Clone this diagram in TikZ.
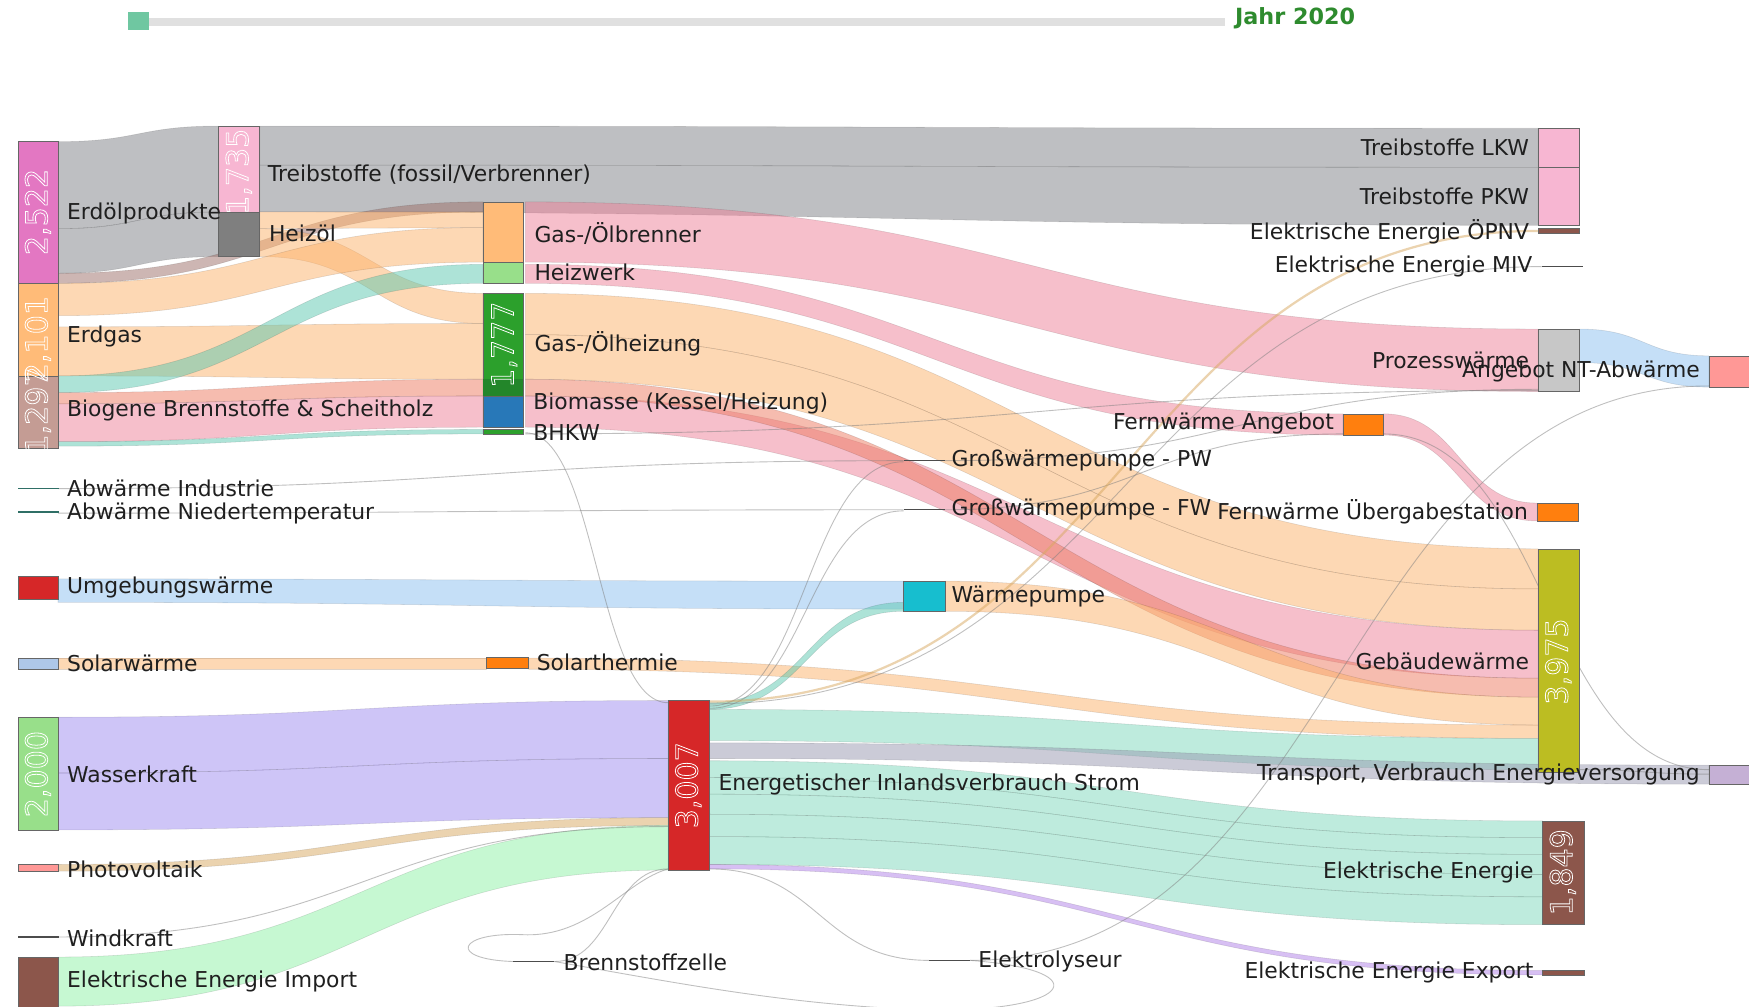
\documentclass[tikz,border=0pt]{standalone}
\usepackage{fontspec}
\setmainfont{DejaVu Sans}
\definecolor{cGray}{HTML}{7E8086}
\definecolor{cOr}{HTML}{FDB36B}
\definecolor{cPink}{HTML}{EE8098}
\definecolor{cSalmon}{HTML}{EE7A60}
\definecolor{cTeal}{HTML}{5CC8B0}
\definecolor{cBlue}{HTML}{8CC0F0}
\definecolor{cLav}{HTML}{9F8CF0}
\definecolor{cMint}{HTML}{7ED8BC}
\definecolor{cLGreen}{HTML}{8EF2A6}
\definecolor{cTan}{HTML}{D8A860}
\definecolor{cBrownL}{HTML}{9C6E68}
\definecolor{cTrans}{HTML}{9898B0}
\definecolor{cPurp}{HTML}{B080E8}
\definecolor{nErd}{HTML}{E377C2}
\definecolor{nGas}{HTML}{FFBB78}
\definecolor{nBio}{HTML}{C49C94}
\definecolor{nRed}{HTML}{D62728}
\definecolor{nLBlue}{HTML}{AEC7E8}
\definecolor{nLGreen}{HTML}{98DF8A}
\definecolor{nPV}{HTML}{FF9896}
\definecolor{nBrown}{HTML}{8C564B}
\definecolor{nPinkL}{HTML}{F7B6D2}
\definecolor{nGray}{HTML}{7F7F7F}
\definecolor{nGreen}{HTML}{2CA02C}
\definecolor{nDGreen}{HTML}{23862A}
\definecolor{nBlue}{HTML}{2878B8}
\definecolor{nOrange}{HTML}{FF7F0E}
\definecolor{nCyan}{HTML}{17BECF}
\definecolor{nLGray}{HTML}{C7C7C7}
\definecolor{nOlive}{HTML}{BCBD22}
\definecolor{nLilac}{HTML}{C5B0D5}
\definecolor{nDTeal}{HTML}{2F6F66}
\definecolor{jahrgreen}{HTML}{2E8B2E}
\definecolor{handle}{HTML}{6FC7A1}
\newcommand{\band}[7]{\path[#7] (#1,#2) .. controls ({(#1+#4)/2},#2) and ({(#1+#4)/2},#5) .. (#4,#5) -- (#4,#6) .. controls ({(#1+#4)/2},#6) and ({(#1+#4)/2},#3) .. (#1,#3) -- cycle;}
\newcommand{\thinflow}[5]{\draw[#5] (#1,#2) .. controls ({(#1+#3)/2},#2) and ({(#1+#3)/2},#4) .. (#3,#4);}
\newcommand{\outl}[1]{\special{pdf:literal direct 1 Tr 0.7 w}#1\special{pdf:literal direct 0 Tr}}
\begin{document}
\begin{tikzpicture}[x=1pt,y=-1pt,
  lk/.style={fill=#1,fill opacity=0.5,draw=black,draw opacity=0.12,line width=0.5pt},
  thinlk/.style={draw=#1,line width=0.8pt,draw opacity=0.5},
  nb/.style={draw=black!60,line width=0.5pt,inner sep=0pt,outer sep=0pt,anchor=north west,minimum width=36pt},
  ln/.style={draw=none,inner sep=0pt,outer sep=0pt,anchor=west,minimum width=37pt,minimum height=1.3pt},
  lbl/.style={font=\fontsize{19.6}{22}\selectfont,text=black!88,inner sep=0pt},
  val/.style={font=\fontsize{27}{30}\selectfont,text=white,rotate=90,inner sep=0pt},
]
\fill[white] (0,0) rectangle (1568,902);
\useasboundingbox (0,0) rectangle (1568,902);

% slider
\fill[black!12] (115,16) rectangle (1098,23);
\node[fill=handle,inner sep=0pt,minimum width=18pt,minimum height=16pt,anchor=north west] (handle) at (115,11) {};
\node[anchor=west,inner sep=0pt,text=jahrgreen,font=\fontsize{20}{22}\bfseries] (jahr) at (1107,16) {Jahr 2020};

% ---- bands ----
\band{52}{127}{205}{196}{113}{190}{lk=cGray}
\band{52}{205}{245}{196}{190}{230}{lk=cGray}
\band{233}{113}{148}{1379}{115}{150}{lk=cGray}
\band{233}{148}{190}{1379}{150}{202}{lk=cGray}
\band{52}{245}{254}{433}{181}{190}{lk=cBrownL}
\band{233}{190}{205}{433}{190}{204}{lk=cOr}
\band{233}{205}{230}{433}{263}{290}{lk=cOr}
\band{52}{254}{283}{433}{204}{235}{lk=cOr}
\band{52}{293}{337}{433}{290}{340}{lk=cOr}
\band{52}{337}{352}{433}{237}{254}{lk=cTeal}
\band{52}{352}{362}{433}{340}{355}{lk=cSalmon}
\band{52}{362}{396}{433}{355}{383}{lk=cPink}
\band{52}{396}{400}{433}{385}{389}{lk=cTeal}
% col3 out
\band{471}{181}{235}{1379}{295}{351}{lk=cPink}
\band{471}{237}{254}{1204}{371}{390}{lk=cPink}
\band{471}{263}{300}{1379}{492}{528}{lk=cOr}
\band{471}{300}{340}{1379}{528}{565}{lk=cOr}
\band{471}{355}{383}{1379}{565}{608}{lk=cPink}
\band{471}{340}{355}{1379}{608}{625}{lk=cSalmon}
\band{1240}{371}{390}{1378}{451}{467}{lk=cPink}
% heat pumps, solar
\band{52}{519}{540}{810}{521}{546}{lk=cBlue}
\band{847}{521}{548}{1379}{625}{650}{lk=cOr}
\band{52}{590}{600}{436}{590}{600}{lk=cOr}
\band{474}{590}{600}{1379}{650}{662}{lk=cOr}
% electricity in
\band{52}{643}{693}{599}{628}{680}{lk=cLav}
\band{52}{693}{744}{599}{680}{733}{lk=cLav}
\band{52}{775}{781}{599}{733}{740}{lk=cTan}
\band{52}{858}{902}{599}{740}{780}{lk=cLGreen}
% electricity out
\band{636}{630}{636}{810}{540}{548}{lk=cTeal}
\band{636}{636}{664}{1379}{662}{690}{lk=cMint}
\band{636}{666}{680}{1532}{686}{703}{lk=cTrans}
\band{636}{682}{697}{1383}{736}{751}{lk=cMint}
\band{636}{697}{712}{1383}{751}{766}{lk=cMint}
\band{636}{712}{730}{1383}{766}{784}{lk=cMint}
\band{636}{730}{750}{1383}{784}{804}{lk=cMint}
\band{636}{750}{775}{1383}{804}{829}{lk=cMint}
\band{636}{775}{779}{1383}{870}{874}{lk=cPurp}
\band{1416}{295}{325}{1532}{319}{347}{lk=cBlue}

% thin links
\thinflow{52}{438}{810}{413}{thinlk=gray}
\thinflow{52}{460}{810}{457}{thinlk=gray}
\thinflow{471}{388}{599}{630}{thinlk=gray}
\thinflow{471}{389}{1379}{350}{thinlk=gray}
\thinflow{636}{633}{810}{414}{thinlk=gray}
\thinflow{636}{635}{810}{458}{thinlk=gray}
\thinflow{847}{413}{1379}{349}{thinlk=gray}
\thinflow{847}{457}{1204}{389}{thinlk=gray}
\thinflow{636}{629}{1379}{207}{thinlk=cTan,line width=2pt}
\thinflow{636}{631}{1382}{239}{thinlk=gray}
\thinflow{1240}{389}{1532}{690}{thinlk=gray}
\thinflow{1416}{690}{1532}{694}{thinlk=gray}
\thinflow{870}{861}{1532}{346}{thinlk=gray}
\thinflow{636}{779}{833}{861}{thinlk=gray}
\thinflow{52}{840}{599}{741}{thinlk=gray}
\thinflow{497}{862}{599}{779}{thinlk=gray}
\draw[thinlk=gray] (460,862) .. controls (400,860) and (410,835) .. (470,838) .. controls (530,840) and (560,790) .. (599,779);
\draw[thinlk=gray] (870,861) .. controls (990,870) and (960,910) .. (820,905) .. controls (700,900) and (600,880) .. (497,862);

% ---- nodes ----
\node[nb,fill=nErd,minimum height=127pt] (erdoel) at (16,127) {};
\node[nb,fill=nGas,minimum height=83pt] (erdgas) at (16,254) {};
\node[nb,fill=nBio,minimum height=65pt] (biogen) at (16,337) {};
\node[ln,fill=nDTeal] (abwind) at (16,438) {};
\node[ln,fill=nDTeal] (abwnt) at (16,459) {};
\node[nb,fill=nRed,minimum height=20pt] (umg) at (16,517) {};
\node[nb,fill=nLBlue,minimum height=10pt] (solw) at (16,590) {};
\node[nb,fill=nLGreen,minimum height=101pt] (wass) at (16,643) {};
\node[nb,fill=nPV,minimum height=6pt] (pv) at (16,775) {};
\node[ln,fill=black!70] (wind) at (16,840) {};
\node[nb,fill=nBrown,minimum height=48pt] (imp) at (16,858) {};

\node[nb,fill=nPinkL,minimum height=77pt] (treib) at (196,113) {};
\node[nb,fill=nGray,minimum height=40pt] (heizoel) at (196,190) {};

\node[nb,fill=nGas,minimum height=54pt] (brenner) at (433,181) {};
\node[nb,fill=nLGreen,minimum height=19pt] (heizwerk) at (433,235) {};
\node[nb,fill=nGreen,minimum height=92pt] (gasheiz) at (433,263) {};
\node[nb,fill=nDGreen,draw=none,minimum height=15pt] (gasheizb) at (433,340) {};
\node[nb,fill=nBlue,minimum height=28pt] (biomasse) at (433,355) {};
\node[nb,fill=nGreen,minimum height=4pt] (bhkw) at (433,385) {};
\node[nb,fill=nOrange,minimum height=10pt,minimum width=38pt] (solth) at (436,589) {};
\node[ln,fill=black!70] (bzelle) at (460,862) {};

\node[nb,fill=nRed,minimum height=152pt,minimum width=37pt] (strom) at (599,628) {};

\node[ln,fill=black!70] (gwppw) at (810,413) {};
\node[ln,fill=black!70] (gwpfw) at (810,457) {};
\node[nb,fill=nCyan,minimum height=27pt,minimum width=37pt] (wp) at (810,521) {};
\node[ln,fill=black!70] (elyse) at (833,861) {};

\node[nb,fill=nOrange,minimum height=19pt] (fwa) at (1204,371) {};

\node[nb,fill=nPinkL,minimum height=35pt,minimum width=37pt] (lkw) at (1379,115) {};
\node[nb,fill=nPinkL,minimum height=52pt,minimum width=37pt] (pkw) at (1379,150) {};
\node[nb,fill=nBrown,minimum height=4pt,minimum width=37pt] (oepnv) at (1379,205) {};
\node[ln,fill=black!70] (miv) at (1382,239) {};
\node[nb,fill=nLGray,minimum height=56pt,minimum width=37pt] (prozess) at (1379,295) {};
\node[nb,fill=nOrange,minimum height=16pt,minimum width=37pt] (fwu) at (1378,451) {};
\node[nb,fill=nOlive,minimum height=200pt,minimum width=37pt] (gebw) at (1379,492) {};
\node[nb,fill=nBrown,minimum height=93pt,minimum width=37pt] (ele) at (1383,736) {};
\node[nb,fill=nBrown,minimum height=4pt,minimum width=37pt] (export) at (1383,870) {};
\node[nb,fill=nPV,minimum height=28pt] (ntab) at (1532,319) {};
\node[nb,fill=nLilac,minimum height=17pt] (transp) at (1532,686) {};

% ---- value labels ----
\node[val] (v1) at (34,190) {\outl{2,522}};
\node[val] (v2) at (34,304) {\outl{2,101}};
\node[val] (v3) at (34,368) {\outl{1,297}};
\node[val] (v4) at (34,694) {\outl{2,000}};
\node[val] (v5) at (214,154) {\outl{1,735}};
\node[val] (v6) at (452,309) {\outl{1,777}};
\node[val] (v7) at (617,704) {\outl{3,007}};
\node[val] (v8) at (1397,593) {\outl{3,975}};
\node[val] (v9) at (1401,782) {\outl{1,849}};

% ---- text labels ----
\node[lbl,anchor=west] (l1) at (60,191) {Erdölprodukte};
\node[lbl,anchor=west] (l2) at (60,302) {Erdgas};
\node[lbl,anchor=west] (l3) at (60,368) {Biogene Brennstoffe \& Scheitholz};
\node[lbl,anchor=west] (l4) at (60,438) {Abwärme Industrie};
\node[lbl,anchor=west] (l5) at (60,460) {Abwärme Niedertemperatur};
\node[lbl,anchor=west] (l6) at (60,527) {Umgebungswärme};
\node[lbl,anchor=west] (l7) at (60,595) {Solarwärme};
\node[lbl,anchor=west] (l8) at (60,694) {Wasserkraft};
\node[lbl,anchor=west] (l9) at (60,779) {Photovoltaik};
\node[lbl,anchor=west] (l10) at (60,841) {Windkraft};
\node[lbl,anchor=west] (l11) at (60,880) {Elektrische Energie Import};
\node[lbl,anchor=west] (l12) at (240,157) {Treibstoffe (fossil/Verbrenner)};
\node[lbl,anchor=west] (l13) at (241,209) {Heizöl};
\node[lbl,anchor=west] (l14) at (479,209) {Gas-/Ölbrenner};
\node[lbl,anchor=west] (l15) at (479,244) {Heizwerk};
\node[lbl,anchor=west] (l16) at (479,308) {Gas-/Ölheizung};
\node[lbl,anchor=west] (l17) at (478,362) {Biomasse (Kessel/Heizung)};
\node[lbl,anchor=west] (l18) at (478,388) {BHKW};
\node[lbl,anchor=west] (l19) at (481,594) {Solarthermie};
\node[lbl,anchor=west] (l20) at (505,863) {Brennstoffzelle};
\node[lbl,anchor=west] (l21) at (644,703) {Energetischer Inlandsverbrauch Strom};
\node[lbl,anchor=west] (l22) at (853,413) {Großwärmepumpe - PW};
\node[lbl,anchor=west] (l23) at (853,457) {Großwärmepumpe - FW};
\node[lbl,anchor=west] (l24) at (853,535) {Wärmepumpe};
\node[lbl,anchor=west] (l25) at (877,862) {Elektrolyseur};
\node[lbl,anchor=east] (l26) at (1196,380) {Fernwärme Angebot};
\node[lbl,anchor=east] (l27) at (1371,132) {Treibstoffe LKW};
\node[lbl,anchor=east] (l28) at (1371,176) {Treibstoffe PKW};
\node[lbl,anchor=east] (l29) at (1371,208) {Elektrische Energie ÖPNV};
\node[lbl,anchor=east] (l30) at (1374,239) {Elektrische Energie MIV};
\node[lbl,anchor=east] (l31) at (1371,323) {Prozesswärme};
\node[lbl,anchor=east] (l32) at (1524,333) {Angebot NT-Abwärme};
\node[lbl,anchor=east] (l33) at (1370,459) {Fernwärme Übergabestation};
\node[lbl,anchor=east] (l34) at (1371,593) {Gebäudewärme};
\node[lbl,anchor=east] (l35) at (1524,694) {Transport, Verbrauch Energieversorgung};
\node[lbl,anchor=east] (l36) at (1375,782) {Elektrische Energie};
\node[lbl,anchor=east] (l37) at (1375,872) {Elektrische Energie Export};
\end{tikzpicture}
\end{document}
